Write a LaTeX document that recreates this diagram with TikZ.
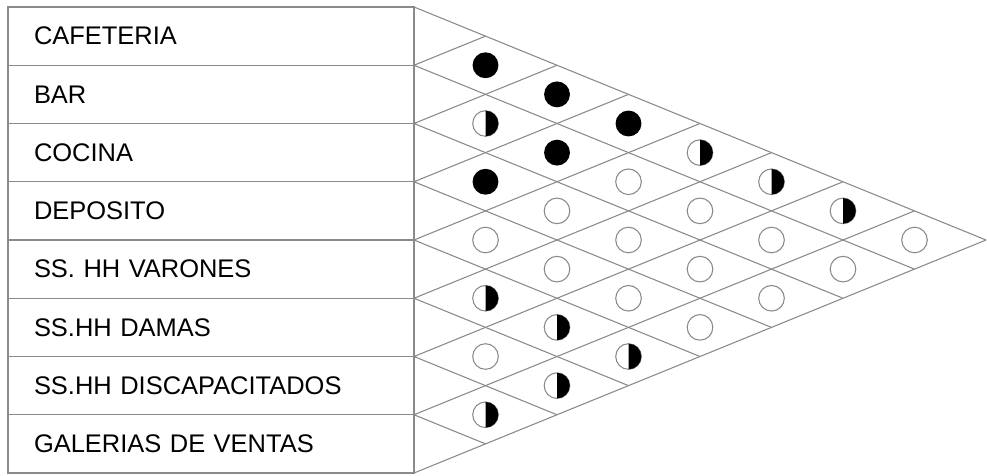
\documentclass[tikz,border=0pt]{standalone}
\usepackage{fontspec}
\setmainfont{Liberation Sans}
\usetikzlibrary{calc}
\definecolor{grid1}{HTML}{8A8A8A}
\definecolor{ink}{HTML}{000000}
\tikzset{
  gridline/.style={draw=grid1,line width=0.8pt},
  rowbox/.style={gridline,anchor=north west,outer sep=0pt,
    minimum height=43.69pt,text width=265.5pt,inner xsep=19.5pt,inner ysep=0pt,
    align=left,font=\fontsize{19.1}{22}\selectfont},
  pics/dotfull/.style={code={\fill[ink] (0,0) circle[radius=9.7pt];}},
  pics/dothalf/.style={code={
    \draw[gridline] (0,0) circle[radius=9.6pt];
    \fill[ink] (0,9.6pt) arc[start angle=90,end angle=-90,radius=9.6pt] -- cycle;}},
  pics/dotnone/.style={code={\draw[gridline] (0,0) circle[radius=9.6pt];}}
}

\begin{document}
\begin{tikzpicture}[x=0.75pt,y=-0.75pt]
  \useasboundingbox (0,0) rectangle (987,475);
  % list of spaces
  \foreach \lab [count=\n from 0] in {CAFETERIA,BAR,COCINA,DEPOSITO,
      SS. HH VARONES,SS.HH DAMAS,SS.HH DISCAPACITADOS,GALERIAS DE VENTAS}{
    \node[rowbox] (r\n) at (8,7+58.25*\n) {\lab};}
  % points of the triangle
  \foreach \j in {0,...,8}{
    \coordinate (U\j) at (414+71.5*\j,7+29.125*\j);
    \coordinate (D\j) at (414+71.5*\j,473-29.125*\j);
    \coordinate (L\j) at (414,7+58.25*\j);}
  % diamond grid
  \foreach \k [evaluate=\k as \m using int(8-\k)] in {0,...,8}{
    \draw[gridline,line join=miter] (U\k) -- (L\k) -- (D\m);}
  % relations: row i / row k / weight
  \foreach \i/\k/\t in {0/1/dotfull,1/2/dothalf,2/3/dotfull,3/4/dotnone,
      4/5/dothalf,5/6/dotnone,6/7/dothalf,
      0/2/dotfull,1/3/dotfull,2/4/dotnone,3/5/dotnone,4/6/dothalf,5/7/dothalf,
      0/3/dotfull,1/4/dotnone,2/5/dotnone,3/6/dotnone,4/7/dothalf,
      0/4/dothalf,1/5/dotnone,2/6/dotnone,3/7/dotnone,
      0/5/dothalf,1/6/dotnone,2/7/dotnone,
      0/6/dothalf,1/7/dotnone,
      0/7/dotnone}{
    \coordinate (c\i\k) at (414+71.5*\k-71.5*\i,7+29.125*\i+29.125*\k+29.125);
    \pic at (c\i\k) {\t};}
\end{tikzpicture}
\end{document}
